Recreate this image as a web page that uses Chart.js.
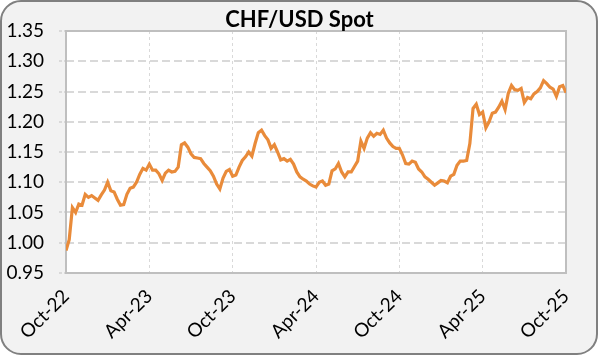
<!DOCTYPE html>
<html>
<head>
<meta charset="utf-8">
<script src="https://cdn.jsdelivr.net/npm/chart.js@4.4.1/dist/chart.umd.min.js"></script>
<style>
  html, body { margin: 0; padding: 0; background: #fff; }
  #wrap { width: 599px; height: 356px; }
</style>
</head>
<body>
<div id="wrap"><canvas id="spot" width="599" height="356"></canvas></div>
<script>
// weekly CHF/USD spot, Oct-22 .. Oct-25
const weeklySpot = [
  0.987, 1.005, 1.058, 1.050, 1.064, 1.062, 1.080, 1.075, 1.078, 1.074,
  1.070, 1.079, 1.087, 1.100, 1.086, 1.084, 1.072, 1.062, 1.063, 1.080,
  1.090, 1.092, 1.100, 1.113, 1.123, 1.120, 1.130, 1.120, 1.120, 1.114,
  1.103, 1.115, 1.120, 1.117, 1.118, 1.125, 1.162, 1.165, 1.158, 1.147,
  1.141, 1.140, 1.139, 1.131, 1.125, 1.119, 1.110, 1.097, 1.089, 1.107,
  1.118, 1.121, 1.110, 1.112, 1.125, 1.136, 1.142, 1.150, 1.143, 1.164,
  1.182, 1.186, 1.177, 1.170, 1.156, 1.162, 1.150, 1.137, 1.139, 1.135,
  1.138, 1.130, 1.117, 1.109, 1.105, 1.102, 1.097, 1.094, 1.092, 1.100,
  1.102, 1.095, 1.097, 1.119, 1.122, 1.131, 1.117, 1.109, 1.117, 1.117,
  1.126, 1.135, 1.168, 1.156, 1.173, 1.182, 1.176, 1.181, 1.179, 1.186,
  1.173, 1.165, 1.159, 1.156, 1.156, 1.145, 1.131, 1.130, 1.135, 1.133,
  1.122, 1.117, 1.109, 1.105, 1.100, 1.095, 1.099, 1.103, 1.102, 1.099,
  1.110, 1.113, 1.128, 1.135, 1.135, 1.136, 1.164, 1.222, 1.229, 1.212,
  1.216, 1.190, 1.200, 1.214, 1.216, 1.224, 1.234, 1.220, 1.247, 1.260,
  1.253, 1.252, 1.255, 1.232, 1.240, 1.238, 1.246, 1.250, 1.256, 1.268,
  1.263, 1.257, 1.254, 1.242, 1.258, 1.260, 1.248
];
const tickLabels = ['Oct-22', 'Apr-23', 'Oct-23', 'Apr-24', 'Oct-24', 'Apr-25', 'Oct-25'];
const weeksPerTick = 26;
const yTicks = [0.95, 1.00, 1.05, 1.10, 1.15, 1.20, 1.25, 1.30, 1.35];
const chartTitle = 'CHF/USD Spot';

const FONT = 'Lato, "Open Sans", sans-serif';

// rounded grey panel, white plot area, plot frame and title
const framePlugin = {
  id: 'frame',
  beforeDraw(chart) {
    const { ctx, width, height, chartArea: a } = chart;
    ctx.save();
    ctx.fillStyle = '#fff';
    ctx.fillRect(0, 0, width, height);
    const x = 1, y = 1, w = width - 3, h = height - 3, r = 20;
    ctx.beginPath();
    ctx.moveTo(x + r, y);
    ctx.arcTo(x + w, y, x + w, y + h, r);
    ctx.arcTo(x + w, y + h, x, y + h, r);
    ctx.arcTo(x, y + h, x, y, r);
    ctx.arcTo(x, y, x + w, y, r);
    ctx.closePath();
    ctx.fillStyle = '#f2f2f2';
    ctx.fill();
    ctx.lineWidth = 2;
    ctx.strokeStyle = '#808080';
    ctx.stroke();
    ctx.fillStyle = '#fff';
    ctx.fillRect(a.left, a.top, a.right - a.left, a.bottom - a.top);
    ctx.restore();
  },
  beforeDatasetsDraw(chart) {
    const { ctx, chartArea: a } = chart;
    ctx.save();
    ctx.strokeStyle = '#bfbfbf';
    ctx.lineWidth = 2;
    ctx.strokeRect(a.left, a.top, a.right - a.left, a.bottom - a.top);
    ctx.restore();
  },
  afterDraw(chart) {
    const { ctx, width } = chart;
    ctx.save();
    ctx.font = 'bold 22px ' + FONT;
    ctx.fillStyle = '#000';
    ctx.textAlign = 'center';
    ctx.textBaseline = 'middle';
    ctx.fillText(chartTitle, width / 2, 20);
    ctx.restore();
  }
};

new Chart(document.getElementById('spot'), {
  type: 'line',
  data: {
    datasets: [{
      label: chartTitle,
      data: weeklySpot.map((v, i) => ({ x: i, y: v })),
      borderColor: '#e98b3a',
      borderWidth: 3.2,
      pointRadius: 0,
      tension: 0
    }]
  },
  options: {
    responsive: false,
    animation: false,
    events: [],
    layout: { padding: { top: 31, right: 33, left: 0, bottom: 0 } },
    plugins: { legend: { display: false }, title: { display: false }, tooltip: { enabled: false } },
    scales: {
      x: {
        type: 'linear',
        min: 0,
        max: (tickLabels.length - 1) * weeksPerTick,
        afterBuildTicks(scale) {
          scale.ticks = tickLabels.map((_, i) => ({ value: i * weeksPerTick }));
        },
        afterFit(scale) { scale.height = 83; },
        ticks: {
          callback: (v) => tickLabels[Math.round(v / weeksPerTick)],
          maxRotation: 45,
          minRotation: 45,
          autoSkip: false,
          padding: 12,
          color: '#000',
          font: { family: FONT, size: 19 }
        },
        grid: { color: '#d9d9d9', lineWidth: 1, drawTicks: false },
        border: { display: false, dash: [3, 3] }
      },
      y: {
        min: 0.95,
        max: 1.35,
        afterBuildTicks(scale) {
          scale.ticks = yTicks.map((v) => ({ value: v }));
        },
        afterFit(scale) { scale.width = 66; },
        ticks: {
          callback: (v) => v.toFixed(2),
          padding: 15,
          color: '#000',
          font: { family: FONT, size: 19 }
        },
        grid: {
          color: '#d9d9d9',
          lineWidth: 2,
          tickLength: 7,
          tickColor: '#d9d9d9',
          tickWidth: 2,
          tickBorderDash: [3, 2]
        },
        border: { display: false, dash: [8, 4] }
      }
    }
  },
  plugins: [framePlugin]
});
</script>
</body>
</html>
